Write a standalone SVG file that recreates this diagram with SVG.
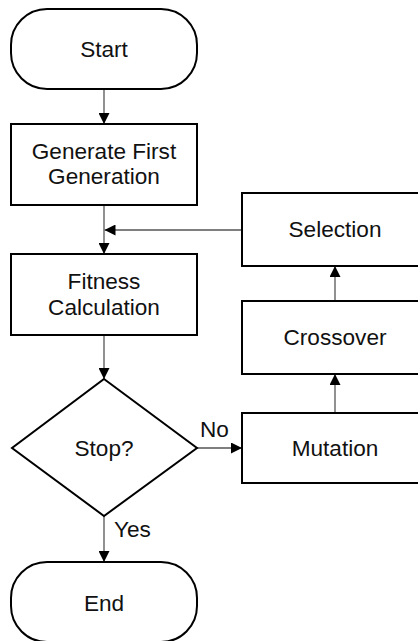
<svg xmlns="http://www.w3.org/2000/svg" width="418" height="641" viewBox="0 0 418 641">
  <style>
    .shape { fill: #ffffff; stroke: #000000; stroke-width: 2; }
    .label { font-family: "Liberation Sans", Arial, sans-serif; font-size: 22.6px; fill: #111111; text-anchor: middle; }
    .edge-label { font-family: "Liberation Sans", Arial, sans-serif; font-size: 22.6px; fill: #111111; }
    .conn { fill: none; stroke: #555555; stroke-width: 1.3; marker-end: url(#arrow); }
  </style>
  <defs>
    <marker id="arrow" markerUnits="userSpaceOnUse" viewBox="0 0 10 10" refX="10" refY="5" markerWidth="11" markerHeight="11" orient="auto">
      <path d="M0,0 L10,5 L0,10 z" fill="#000000"/>
    </marker>
  </defs>

  <rect width="418" height="641" fill="#ffffff"/>

  <!-- connectors -->
  <g id="connectors">
    <line class="conn" x1="104" y1="89" x2="104" y2="124"/>
    <line class="conn" x1="104" y1="205" x2="104" y2="254"/>
    <line class="conn" x1="242" y1="230" x2="104.5" y2="230"/>
    <line class="conn" x1="104" y1="335" x2="104" y2="379"/>
    <line class="conn" x1="197" y1="448" x2="242" y2="448"/>
    <line class="conn" x1="335" y1="413" x2="335" y2="374"/>
    <line class="conn" x1="335" y1="301" x2="335" y2="266"/>
    <line class="conn" x1="104" y1="516" x2="104" y2="562"/>
    <text class="edge-label" x="200" y="437">No</text>
    <text class="edge-label" x="114" y="537">Yes</text>
  </g>

  <g id="start">
    <rect class="shape" x="11" y="9" width="186" height="80" rx="36" ry="36"/>
    <text class="label" x="104" y="57">Start</text>
  </g>

  <g id="generate">
    <rect class="shape" x="11" y="124" width="186" height="81"/>
    <text class="label" x="104" y="159">Generate First</text>
    <text class="label" x="104" y="184">Generation</text>
  </g>

  <g id="fitness">
    <rect class="shape" x="11" y="254" width="186" height="81"/>
    <text class="label" x="104" y="289">Fitness</text>
    <text class="label" x="104" y="315">Calculation</text>
  </g>

  <g id="stop">
    <polygon class="shape" points="104,379 197,448 104,516 12,448"/>
    <text class="label" x="104" y="456">Stop?</text>
  </g>

  <g id="end">
    <rect class="shape" x="11" y="562" width="186" height="80" rx="36" ry="36"/>
    <text class="label" x="104" y="611">End</text>
  </g>

  <g id="selection">
    <rect class="shape" x="242" y="193" width="186" height="73"/>
    <text class="label" x="335" y="237">Selection</text>
  </g>

  <g id="crossover">
    <rect class="shape" x="242" y="301" width="186" height="73"/>
    <text class="label" x="335" y="345">Crossover</text>
  </g>

  <g id="mutation">
    <rect class="shape" x="242" y="413" width="186" height="70"/>
    <text class="label" x="335" y="456">Mutation</text>
  </g>
</svg>
